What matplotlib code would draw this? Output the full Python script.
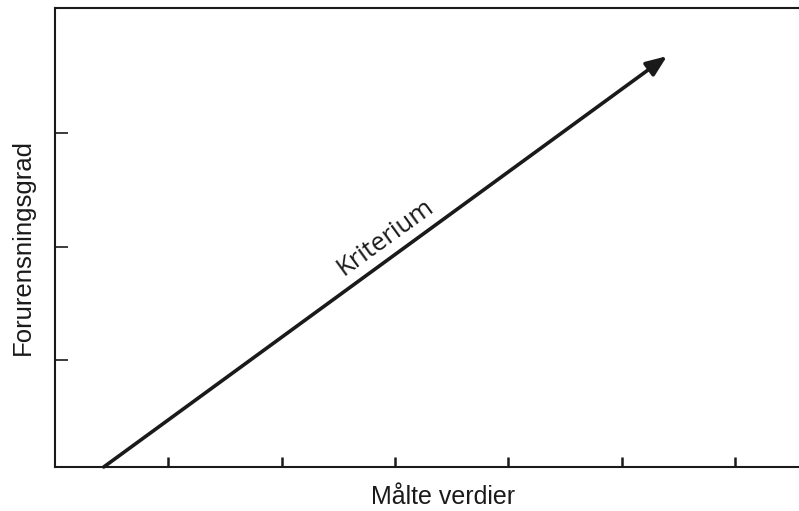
import matplotlib
matplotlib.use("Agg")
import matplotlib.pyplot as plt

# Data (axis units derived from the reference picture)
x_ticks = [1, 2, 3, 4, 5, 6]
y_ticks = [0.94, 1.94, 2.94]
arrow_start = (0.43, 0.0)
arrow_end = (5.40, 3.62)
arrow_label = "Kriterium"
x_label = "Målte verdier"
y_label = "Forurensningsgrad"

fig = plt.figure(figsize=(7.99, 5.11), dpi=100)
ax = fig.add_axes([55 / 799, 1 - 467 / 511, 1 - 55 / 799, (467 - 8) / 511])
ax.set_xlim(0, (799 - 54.6) / 113.4)
ax.set_ylim(0, (467 - 8) / 113.5)

ink = "#1a1a1a"
for s in ["left", "bottom", "top"]:
    ax.spines[s].set_linewidth(1.5)
    ax.spines[s].set_color(ink)
ax.spines["right"].set_visible(False)

ax.set_xticks(x_ticks)
ax.set_yticks(y_ticks)
ax.set_xticklabels([])
ax.set_yticklabels([])
ax.tick_params(axis="x", direction="in", length=7.5, width=1.8, color=ink, top=False)
ax.tick_params(axis="y", direction="in", length=9.5, width=1.2, color=ink, right=False)

ax.annotate("", xy=arrow_end, xytext=arrow_start,
            arrowprops=dict(arrowstyle="-|>,head_length=1.25,head_width=0.5",
                            color=ink, lw=2.6, shrinkA=0, shrinkB=0))

ax.text(2.92, 2.02, arrow_label, rotation=36, ha="center", va="center",
        fontsize=18.5, family="Open Sans", color=ink, rotation_mode="anchor")

fig.text(443 / 799, 1 - 504 / 511, x_label, ha="center", va="baseline",
         fontsize=18, family="Liberation Sans", color=ink)
fig.text(23 / 799, 1 - 247 / 511, y_label, ha="center", va="center",
         rotation=90, fontsize=18.5, family="Liberation Sans", color=ink)

fig.savefig("out.png", dpi=100)
